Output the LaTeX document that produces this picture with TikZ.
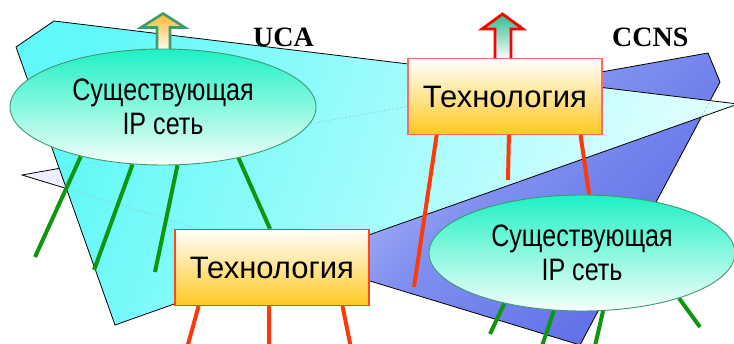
\documentclass[tikz,border=0pt]{standalone}
\usepackage{fontspec}
\setmainfont{Liberation Sans}
\newfontfamily\narrowsans[FakeStretch=0.81]{Liberation Sans}
\newfontfamily\labelserif{Liberation Serif}
\usetikzlibrary{shapes.geometric,calc}
\pgfdeclarelayer{planes}
\pgfdeclarelayer{wires}
\pgfsetlayers{planes,wires,main}

\definecolor{ucasat}{RGB}{96,248,248}
\definecolor{ucapale}{RGB}{228,255,255}
\definecolor{ccnspale}{RGB}{238,238,255}
\definecolor{ccnslav}{RGB}{208,212,250}
\definecolor{ccnslight}{RGB}{166,176,244}
\definecolor{ccnsmid}{RGB}{128,144,240}
\definecolor{ccnsdeep}{RGB}{92,108,230}
\definecolor{hiddenedge}{RGB}{150,200,215}
\definecolor{cloudtop}{RGB}{30,240,196}
\definecolor{cloudbot}{RGB}{246,255,251}
\definecolor{cloudedge}{RGB}{60,155,110}
\definecolor{techbot}{RGB}{255,200,32}
\definecolor{techedgeA}{RGB}{255,105,105}
\definecolor{techedgeB}{RGB}{255,70,20}
\definecolor{wiregreen}{RGB}{14,150,14}
\definecolor{wirered}{RGB}{255,58,10}
\definecolor{arrowgreen}{RGB}{60,158,110}
\definecolor{arroworange}{RGB}{255,185,50}
\definecolor{arrowteal}{RGB}{45,190,140}

% CCNS plane: pale at the far tip, deepening towards the lower edge
\pgfdeclarehorizontalshading{ccnsshade}{100bp}{color(0bp)=(ccnspale); color(31bp)=(ccnspale);
  color(40bp)=(ccnslav); color(49bp)=(ccnslight); color(58bp)=(ccnsmid);
  color(78bp)=(ccnsdeep); color(100bp)=(ccnsdeep)}

\begin{document}
\begin{tikzpicture}[x=1pt,y=-1pt,
  planeedge/.style={draw=black, line width=0.8pt, line join=miter},
  ucaplane/.style={planeedge, left color=ucasat, right color=ucapale, shading angle=70},
  ccnsplane/.style={planeedge, shading=ccnsshade, shading angle=-45},
  hiddenline/.style={draw=hiddenedge, line width=0.6pt, dashed, dash pattern=on 2pt off 2pt},
  netcloud/.style={ellipse, draw=cloudedge, line width=0.9pt,
    top color=cloudtop, bottom color=cloudbot,
    minimum width=306pt, minimum height=116pt, inner sep=0pt, align=center,
    font=\narrowsans\fontsize{31}{34}\selectfont},
  techbox/.style={rectangle, line width=1.2pt, top color=white, bottom color=techbot,
    minimum width=194pt, minimum height=76pt, inner sep=0pt,
    font=\fontsize{31}{34}\selectfont},
  planelabel/.style={inner sep=0pt, anchor=base west,
    font=\labelserif\bfseries\fontsize{28}{28}\selectfont},
  greenwire/.style={draw=wiregreen, line width=4pt},
  redwire/.style={draw=wirered, line width=4pt},
  upgreen/.style={draw=arrowgreen, line width=2.6pt, line join=miter,
    top color=arroworange, bottom color=white},
  upred/.style={draw=red, line width=2.8pt, line join=miter,
    top color=arrowteal, bottom color=white}
]
\useasboundingbox (0,0) rectangle (734,344);

% network nodes
\node[netcloud] (e1) at (163,107) {Существующая\\IP сеть};
\node[netcloud] (e2) at (582,253) {Существующая\\IP сеть};
\node[techbox, draw=techedgeA] (b1) at (505,96.5) {Технология};
\node[techbox, draw=techedgeB] (b2) at (272,267.5) {Технология};

% plane labels
\node[planelabel] (uca) at (253,47) {UCA};
\node[planelabel] (ccns) at (612,47) {CCNS};

% free ends of the access links
\coordinate (g1) at (35,257);
\coordinate (g2) at (94,270);
\coordinate (g3) at (155,272);
\coordinate (g5) at (490,334);
\coordinate (g6) at (542,346);
\coordinate (g7) at (595,346);
\coordinate (g8) at (700,327);
\coordinate (r1) at (187,348);
\coordinate (r2) at (269,348);
\coordinate (r3) at (351,348);
\coordinate (r4) at (414,287);
\coordinate (r5) at (508,180);

% the two planes
\begin{pgfonlayer}{planes}
  \path[ccnsplane] (22,175) -- (708,53) -- (720,82) -- (580,345) -- cycle;
  \path[ucaplane] (54,21) -- (16,47) -- (115,325) -- (738,104) -- cycle;
  \begin{scope}
    \clip (54,21) -- (16,47) -- (115,325) -- (738,104) -- cycle;
    \draw[hiddenline] (22,175) -- (708,53) -- (720,82) -- (580,345) -- cycle;
  \end{scope}
\end{pgfonlayer}

% links and upward arrows
\begin{pgfonlayer}{wires}
  \draw[greenwire] (e1.211) -- (g1);
  \draw[greenwire] (e1.242) -- (g2);
  \draw[greenwire] (e1.284) -- (g3);
  \draw[greenwire] (e1.326) -- ($(b2.north west)!0.49!(b2.north east)$);
  \draw[greenwire] (e2.213) -- (g5);
  \draw[greenwire] (e2.244) -- (g6);
  \draw[greenwire] (e2.290) -- (g7);
  \draw[greenwire] (e2.335) -- (g8);
  \draw[redwire] ($(b2.south west)!0.124!(b2.south east)$) -- (r1);
  \draw[redwire] ($(b2.south west)!0.485!(b2.south east)$) -- (r2);
  \draw[redwire] ($(b2.south west)!0.861!(b2.south east)$) -- (r3);
  \draw[redwire] ($(b1.south west)!0.15!(b1.south east)$) -- (r4);
  \draw[redwire] ($(b1.south west)!0.52!(b1.south east)$) -- (r5);
  \draw[redwire] ($(b1.south west)!0.887!(b1.south east)$) -- (e2.83);
  \path[upgreen] (157,52) -- (157,27.5) -- (141,27.5) -- (163,13.5) -- (185,27.5)
    -- (170,27.5) -- (170,52) -- cycle;
  \path[upred] (495,60) -- (495,29) -- (482,29) -- (502.5,14) -- (523,29)
    -- (511,29) -- (511,60) -- cycle;
\end{pgfonlayer}
\end{tikzpicture}
\end{document}
